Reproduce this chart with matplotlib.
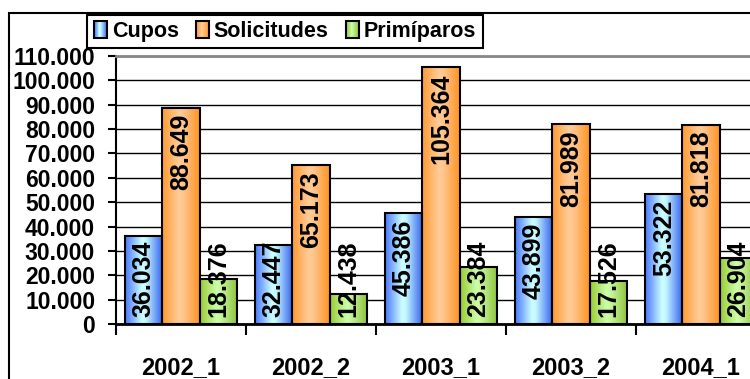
import matplotlib
matplotlib.use("Agg")
import matplotlib.pyplot as plt
import numpy as np
from matplotlib.colors import LinearSegmentedColormap
from matplotlib.legend_handler import HandlerBase
from matplotlib.patches import Patch, Rectangle

categories = ['2002_1', '2002_2', '2003_1', '2003_2', '2004_1']
cupos = [36034, 32447, 45386, 43899, 53322]
solicitudes = [88649, 65173, 105364, 81989, 81818]
primiparos = [18376, 12438, 23384, 17526, 26904]
series_names = ['Cupos', 'Solicitudes', 'Primíparos']
y_ticks = list(range(0, 110001, 10000))

plt.rcParams['font.family'] = ['Liberation Sans', 'DejaVu Sans']
plt.rcParams['font.weight'] = 'bold'

# side-to-centre shading of each series, like the old office bar fills
blue_cmap = LinearSegmentedColormap.from_list('blue', [(0, '#4a78ff'), (0.45, '#ccffff'), (0.55, '#c4f8ff'), (1, '#3662f2')])
orange_cmap = LinearSegmentedColormap.from_list('orange', [(0, '#ff9a33'), (0.45, '#ffcc99'), (0.55, '#ffc690'), (1, '#ff9424')])
green_cmap = LinearSegmentedColormap.from_list('green', [(0, '#99cc33'), (0.45, '#ccffaa'), (0.55, '#c6f59e'), (1, '#8cc23a')])
cmaps = [blue_cmap, orange_cmap, green_cmap]


def fmt_thousands(v):
    return f'{v:,}'.replace(',', '.')


class GradientHandler(HandlerBase):
    def __init__(self, cmap):
        super().__init__()
        self.cmap = cmap

    def create_artists(self, legend, orig_handle, xdescent, ydescent, width, height, fontsize, trans):
        artists = []
        n = 14
        for i in range(n):
            r = Rectangle((-xdescent + i * width / n, -ydescent), width / n + 0.3, height,
                          facecolor=self.cmap((i + 0.5) / n), edgecolor='none', lw=0, transform=trans)
            artists.append(r)
        artists.append(Rectangle((-xdescent, -ydescent), width, height, fill=False,
                                 edgecolor='black', lw=1.5, transform=trans))
        return artists


fig = plt.figure(figsize=(7.5, 3.79), dpi=100)
ax = fig.add_axes([116 / 750, 55 / 379, 634 / 750, 268 / 379])

x = np.arange(len(categories))
width = 0.285
bar_texts = []
for k, values in enumerate([cupos, solicitudes, primiparos]):
    offset = (k - 1) * width
    grad = cmaps[k](np.linspace(0, 1, 64))[np.newaxis, :, :3]
    for xi, v in zip(x, values):
        x0 = xi + offset - width / 2
        ax.imshow(grad, extent=(x0, x0 + width, 0, v), aspect='auto', interpolation='bilinear', zorder=2)
    ax.bar(x + offset, values, width, facecolor='none', edgecolor='black', linewidth=1.5, zorder=3)
    for xi, v in zip(x, values):
        t = ax.annotate(fmt_thousands(v), (xi + offset, v), xytext=(0, -6), textcoords='offset pixels',
                        rotation=90, ha='center', va='top', fontsize=18, fontweight='bold', zorder=4)
        bar_texts.append((t, xi + offset))

ax.set_yticks(y_ticks)
ax.set_yticklabels([fmt_thousands(v) for v in y_ticks])
ax.tick_params(axis='y', direction='out', length=6, width=1.5, pad=9, labelsize=16.5)

ax.set_xticks(np.arange(len(categories) + 1) - 0.5)
ax.set_xticklabels([])
ax.set_xticks(x, minor=True)
ax.set_xticklabels(categories, minor=True)
ax.tick_params(axis='x', which='major', direction='out', length=8, width=1.5)
ax.tick_params(axis='x', which='minor', length=0, pad=23, labelsize=17)

# the plot area runs on past the right edge of the figure
ax.set_xlim(-0.5, -0.5 + 634 / 130)
ax.set_ylim(0, 110000)

ax.yaxis.grid(True, color='black', linewidth=1)
ax.set_axisbelow(True)
ax.spines['right'].set_visible(False)
ax.spines['top'].set_color('#888888')
ax.spines['top'].set_linewidth(2)
ax.spines['left'].set_linewidth(1.5)
ax.spines['bottom'].set_linewidth(2)

# labels that would run past the base sit just above it instead
fig.canvas.draw()
renderer = fig.canvas.get_renderer()
base_px = ax.transData.transform((0, 0))[1]
for t, xpos in bar_texts:
    bb = t.get_window_extent(renderer)
    if bb.y0 < base_px + 7:
        t.xy = (xpos, 0)
        t.set_position((0, 7))
        t.set_va('bottom')

# outer chart frame
fig.add_artist(Rectangle((9 / 750, -0.1), 1.0, 1 - 13 / 379 + 0.1, transform=fig.transFigure,
                         fill=False, edgecolor='black', linewidth=1.5))

handles = [Patch(label=n) for n in series_names]
leg = fig.legend(handles=handles, loc='center', bbox_to_anchor=(285 / 750, 1 - 31.5 / 379), ncol=3,
                 handler_map={h: GradientHandler(c) for h, c in zip(handles, cmaps)},
                 fontsize=15.5, handlelength=0.6, handleheight=0.84, handletextpad=0.23,
                 columnspacing=0.8, borderpad=0.3, borderaxespad=0, fancybox=False,
                 framealpha=1, edgecolor='black')
leg.get_frame().set_linewidth(1.5)

fig.savefig('out.png', dpi=100)
